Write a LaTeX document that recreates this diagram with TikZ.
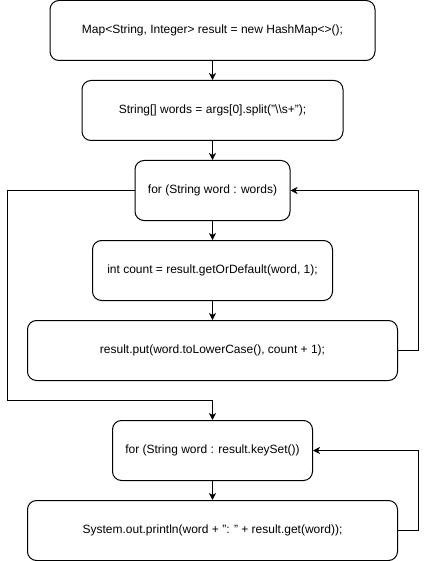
\documentclass[tikz,border=0pt]{standalone}
\usepackage{fontspec}
\setmainfont{Liberation Sans}
\usetikzlibrary{arrows.meta}

\tikzset{
  codebox/.style={draw, line width=1pt, rounded corners=9pt, align=center,
    inner sep=0pt, minimum height=60pt, font=\fontsize{12}{14}\selectfont},
  flow/.style={line width=1pt, -{Stealth[length=7pt,width=7pt,inset=2pt]}}
}

\begin{document}
\begin{tikzpicture}[x=1pt, y=-1pt]

  \newcommand{\stmt}[4]{\node[codebox, minimum width=#3] (#1) at (212.5, #2) {#4};}

  \useasboundingbox (0,0) rectangle (426,561);

  \begin{scope}
%
 \stmt{init}{30.5}{325}{Map<String, Integer> result = new HashMap<>();}
 \stmt{split}{110.5}{261}{String[] words = args[0].split("\textbackslash\textbackslash s+");}
 \stmt{loopa}{190.5}{155}{for (String word : words)}
 \stmt{count}{270.5}{240}{int count = result.getOrDefault(word, 1);}
 \stmt{put}{350.5}{370}{result.put(word.toLowerCase(), count + 1);}
 \stmt{loopb}{450.5}{200}{for (String word : result.keySet())}
 \stmt{print}{530.5}{370}{System.out.println(word + ": " + result.get(word));}
%
 \coordinate (exit) at (7.5, 400.5);
%
 \draw[flow] (init) -- (split);
 \draw[flow] (split) -- (loopa);
 \draw[flow] (loopa) -- (count);
 \draw[flow] (count) -- (put);
 \draw[flow] (put.east) -- ++(20,0) |- (loopa.east);
 \draw[flow] (loopa.west) -| (exit) -| (loopb.north);
 \draw[flow] (loopb) -- (print);
 \draw[flow] (print.east) -- ++(20,0) |- (loopb.east);
  \end{scope}

\end{tikzpicture}
\end{document}
